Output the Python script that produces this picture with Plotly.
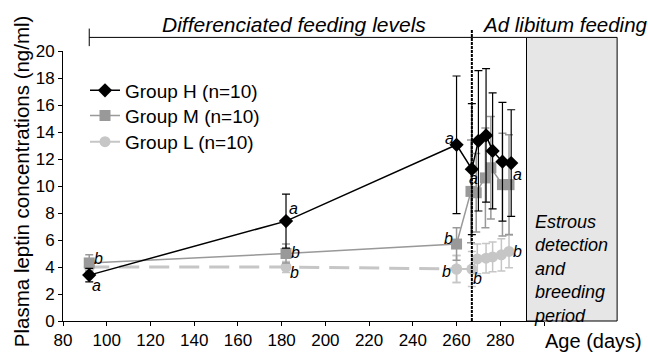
import plotly.graph_objects as go

# ---------------- data ----------------
days_H = [92, 182, 260, 267, 270, 273.5, 276.5, 281, 285]
leptin_H = [3.4, 7.4, 13.05, 11.25, 13.35, 13.75, 12.6, 11.8, 11.7]
se_H = [0.5, 2.0, 5.1, 4.85, 5.2, 4.95, 4.3, 4.4, 3.95]
sig_H = ["a", "a", "a", None, None, None, None, None, "a"]

days_M = [92, 182, 260, 266.6, 269, 273.2, 275.7, 281, 284]
leptin_M = [4.3, 5.0, 5.7, 9.6, 9.5, 10.6, 11.35, 10.1, 10.1]
se_M = [0.6, 0.7, 1.2, 3.8, 2.9, 3.7, 3.8, 3.8, 3.7]
sig_M = ["b", "b", "b", "a", None, None, None, None, None]

days_L = [92, 182, 260, 267, 269.5, 273.5, 276.5, 280.5, 284]
leptin_L = [4.0, 4.0, 3.85, 3.85, 4.6, 4.65, 4.75, 4.9, 5.15]
se_L = [0.3, 0.4, 1.0, 1.3, 1.1, 1.1, 1.1, 1.2, 1.2]
sig_L = [None, "b", "b", "b", None, None, None, None, "b"]

names = ["Group H (n=10)", "Group M (n=10)", "Group L (n=10)"]
x_ticks = [80, 100, 120, 140, 160, 180, 200, 220, 240, 260, 280, 300]
x_tick_labels = ["80", "100", "120", "140", "160", "180", "200", "220", "240", "260", "280", ""]
y_ticks = [0, 2, 4, 6, 8, 10, 12, 14, 16, 18, 20]

feeding_start_day = 92
adlib_start_day = 267
breeding_start_day = 292

# ---------------- style ----------------
FONT = "Liberation Sans, Arial, sans-serif"
C_H, C_M, C_L = "#000000", "#999999", "#c6c6c6"
X_MIN, X_MAX = 80, 300
Y_MIN, Y_MAX = 0, 20


def xp(day):
    return (day - X_MIN) / (X_MAX - X_MIN)


fig = go.Figure()

# Group L: dashed early part (no legend)
fig.add_trace(go.Scatter(
    x=days_L[:3], y=leptin_L[:3], mode="lines+markers", showlegend=False,
    line=dict(color=C_L, width=3, dash="20px,10px"),
    marker=dict(symbol="circle", size=11, color=C_L),
    error_y=dict(type="data", array=se_L[:3], color=C_L, thickness=1.5, width=4),
))
# Group L: solid part
fig.add_trace(go.Scatter(
    x=days_L[2:], y=leptin_L[2:], mode="lines+markers", name=names[2], legend="legend3",
    line=dict(color=C_L, width=2),
    marker=dict(symbol="circle", size=11, color=C_L),
    error_y=dict(type="data", array=se_L[2:], color=C_L, thickness=1.5, width=4),
))
# Group M
fig.add_trace(go.Scatter(
    x=days_M, y=leptin_M, mode="lines+markers", name=names[1], legend="legend2",
    line=dict(color=C_M, width=1.5),
    marker=dict(symbol="square", size=11, color=C_M),
    error_y=dict(type="data", array=se_M, color=C_M, thickness=1.5, width=4),
))
# Group H
fig.add_trace(go.Scatter(
    x=days_H, y=leptin_H, mode="lines+markers", name=names[0], legend="legend",
    line=dict(color=C_H, width=1.5),
    marker=dict(symbol="diamond", size=11, color=C_H),
    error_y=dict(type="data", array=se_H, color=C_H, thickness=1.2, width=4),
))

# significance letters (offsets in px relative to each point)
off_H = [(7, -10), (7, 13), (-7, 6), None, None, None, None, None, (6, -11)]
off_M = [(9, 4), (9, 1), (-8, 6), (3, 13), None, None, None, None, None]
off_L = [None, (8, -5), (-10, -2), (6, -9), None, None, None, None, (8, 0)]
annots = []
for days, vals, sig, off in [(days_H, leptin_H, sig_H, off_H),
                             (days_M, leptin_M, sig_M, off_M),
                             (days_L, leptin_L, sig_L, off_L)]:
    for d, v, s, o in zip(days, vals, sig, off):
        if s:
            annots.append(dict(x=d, y=v, xref="x", yref="y", text=f"<i>{s}</i>",
                               showarrow=False, xshift=o[0], yshift=o[1],
                               font=dict(family=FONT, size=16, color="black")))

# header texts and other labels
annots += [
    dict(x=0.481, y=1.097, xref="paper", yref="paper", text="<i>Differenciated feeding levels</i>",
         showarrow=False, xanchor="center", yanchor="middle",
         font=dict(family=FONT, size=21, color="black")),
    dict(x=xp(adlib_start_day) + 0.016, y=1.097, xref="paper", yref="paper",
         text="<i>Ad libitum feeding</i>", showarrow=False, xanchor="left", yanchor="middle",
         font=dict(family=FONT, size=20.5, color="black")),
    dict(x=0.975, y=0.192, xref="paper", yref="paper",
         text="<i>Estrous<br>detection<br>and<br>breeding<br>period</i>", showarrow=False,
         xanchor="left", yanchor="middle", align="left",
         font=dict(family=FONT, size=18, color="black")),
    dict(x=0.998, y=-0.0755, xref="paper", yref="paper", text="Age (days)",
         showarrow=False, xanchor="left", yanchor="middle",
         font=dict(family=FONT, size=20, color="black")),
    dict(x=-0.0873, y=0.518, xref="paper", yref="paper",
         text="Plasma leptin concentrations (ng/ml)", textangle=-90,
         showarrow=False, xanchor="center", yanchor="middle",
         font=dict(family=FONT, size=20.5, color="black")),
]

shapes = [
    # breeding period box
    dict(type="rect", xref="paper", yref="paper", x0=xp(breeding_start_day), x1=1.152,
         y0=0, y1=1.0504, fillcolor="#e6e6e6", line=dict(color="black", width=1), layer="below"),
    # horizontal header line
    dict(type="line", xref="paper", yref="paper", x0=xp(feeding_start_day), x1=xp(breeding_start_day),
         y0=1.0504, y1=1.0504, line=dict(color="black", width=1)),
    # left tick of header line
    dict(type="line", xref="paper", yref="paper", x0=xp(feeding_start_day), x1=xp(feeding_start_day),
         y0=1.018, y1=1.083, line=dict(color="black", width=1)),
    # vertical ad-libitum line
    dict(type="line", xref="paper", yref="paper", x0=xp(adlib_start_day), x1=xp(adlib_start_day),
         y0=0, y1=1.079, line=dict(color="black", width=2, dash="3px,1px")),
]

axis_common = dict(showgrid=False, zeroline=False, showline=True, linecolor="black", linewidth=1,
                   ticks="outside", ticklen=4, tickcolor="black",
                   tickfont=dict(family=FONT, size=17, color="black"))

legend_common = dict(x=(85 - 63) / 481, xanchor="left", yanchor="top",
                     bgcolor="rgba(0,0,0,0)", font=dict(family=FONT, size=19, color="black"),
                     itemwidth=30)

fig.update_layout(
    width=648, height=362,
    margin=dict(l=63, r=104, t=51, b=33),
    paper_bgcolor="white", plot_bgcolor="white",
    xaxis=dict(range=[X_MIN, X_MAX], tickvals=x_ticks, ticktext=x_tick_labels, **axis_common),
    yaxis=dict(range=[Y_MIN, Y_MAX], tickvals=y_ticks, **axis_common),
    legend=dict(y=0.924, **legend_common),
    legend2=dict(y=0.831, **legend_common),
    legend3=dict(y=0.734, **legend_common),
    annotations=annots,
    shapes=shapes,
    font=dict(family=FONT, color="black"),
)

fig.write_html("out.html")
